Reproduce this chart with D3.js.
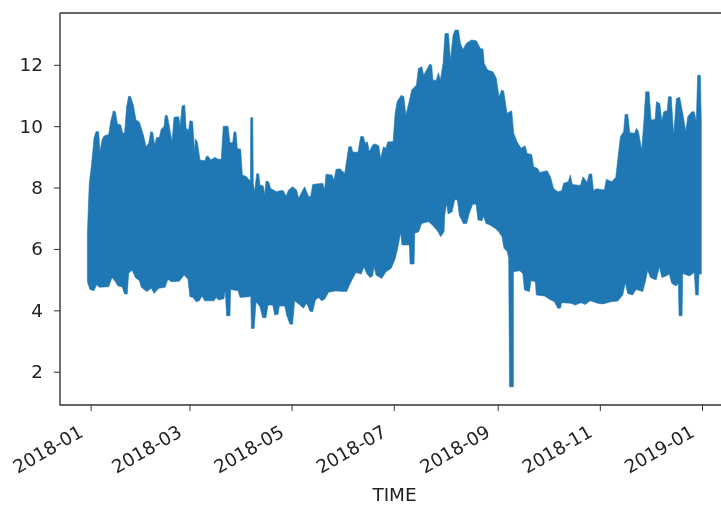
<!DOCTYPE html>
<html><head><meta charset="utf-8">
<script src="https://cdn.jsdelivr.net/npm/d3@7"></script>
<style>html,body{margin:0;padding:0;background:#fff}svg{display:block;filter:blur(0.55px)}text{font-family:"DejaVu Sans";fill:#222}</style>
</head><body><svg id="c" width="721" height="505"></svg>
<script>
// days since 2018-01-01 and value of the upper envelope of the series
const upperDay=[-1.9,-0.8,0.4,1.2,2,3.2,4.8,5.6,6.8,8,10.8,12,13.6,14.8,16,18,19.2,20.3,21.5,22.7,23.9,25.5,27.1,29.1,31.5,33.1,34.7,35.9,37.1,38.2,39.4,41,42.2,43.8,44.6,45.8,47,48.6,49.8,52.6,53.4,54.6,56.2,57,58.5,59.3,60.9,62.1,62.5,63.7,65.3,68.1,69.3,70.5,71.7,74.1,76.4,78,79.2,82,83.2,84.8,85.6,86.8,87.6,89.6,90.6,93.2,94.8,95.4,95.6,96.8,97.1,97.9,99.2,100.4,101.1,103.1,103.9,104.7,106.3,107.5,111.1,113.1,115.1,116.6,118.2,120.6,123,124.2,126.2,127.8,129,130.2,131.4,132.6,138.6,139.7,140.5,144.1,145.3,146.5,148.9,151.7,152.9,154.1,155.7,156.5,159.6,161.2,162.8,164,165.2,166.4,168.4,170,172,173.2,174.8,176.3,177.4,180.6,181.8,183,185.4,187,188.2,189.7,191.7,194.5,195.7,197.7,198.9,202.4,203.6,204.4,206.4,207.6,208.8,210.4,211.6,213.6,214.8,216.4,217.6,219.6,220.8,222.3,224.3,227.5,230.3,232.7,234.3,235,237,240.2,242.2,243.8,245.4,246.6,248.6,251.4,252.6,254.6,257,259.4,260.6,263.3,264.5,266.9,268.1,272.5,274.5,276.4,278.9,281.2,282.4,285.2,286.4,287.6,292.4,294,296.4,297.6,299.2,300.2,301.8,306.7,307.9,311.1,313.5,314.7,316.3,318.2,319.1,320.7,321.9,324.7,325.9,327.1,329,330.2,331.4,333.4,334.6,337,337.8,339.8,341,342.2,344.2,345,346.6,348.1,349.7,351.7,353.7,355.3,356.5,358.9,360.4,361.6,362.4,364,364.6];
const upperValue=[6.51,8.13,8.68,9.11,9.6,9.82,9.82,9.17,9.55,9.68,9.73,10.15,10.5,10.47,10.07,10.04,9.77,9.79,10.63,10.98,10.96,10.69,10.2,10.14,9.71,9.33,9.44,9.82,9.8,9.39,9.63,9.63,9.91,9.98,10.36,10.34,10,9.49,10.29,10.31,10,10.66,10.69,9.93,9.87,10.18,10.15,9.11,9.59,9.49,8.9,8.87,9.03,9,8.9,8.98,8.92,8.92,10,10,9.46,9.46,9.82,9.8,9.27,9.25,8.41,8.35,8.24,8.24,10.28,10.28,8.14,7.86,8.46,8.44,8.08,8.05,7.76,8.21,8.19,7.97,7.86,7.9,7.9,7.72,7.92,8.03,7.92,7.65,7.86,8.03,7.86,7.7,7.72,8.1,8.14,7.92,8.43,8.41,8.24,8.59,8.61,8.46,8.9,9.33,9.33,9.16,9.15,9.66,9.66,9.44,9.49,9.17,9.39,9.42,9.36,8.95,9.33,9.28,9.49,9.49,10.42,10.8,11.01,10.96,10.36,10.69,11.18,11.34,11.88,11.94,11.66,12.02,11.99,11.5,11.5,11.74,11.5,12.04,13.02,13.02,12.15,12.97,13.13,13.13,12.7,12.5,12.7,12.81,12.78,12.53,12.51,12.04,11.83,11.77,11.56,10.96,11.18,11.15,10.42,10.5,9.77,9.49,9.28,9.36,9.11,9.08,8.68,8.62,8.49,8.55,8.35,7.97,7.86,7.9,8.14,8.19,8.41,8.1,8.07,8.35,8.17,8.44,8.44,7.9,7.96,7.92,8.27,8.19,8.33,8.9,9.66,9.82,10.38,10.38,9.79,9.77,9.93,9.82,9.22,10.09,11.12,11.12,10.2,10.22,10.8,10.74,10.18,10.47,10.5,10.96,10.96,9.71,10.9,10.94,10.36,9.82,10.31,10.47,10.47,10.15,11.66,11.66,10.09];
// days since 2018-01-01 and value of the lower envelope of the series
const lowerDay=[-1.9,-0.4,2,3.6,5.2,10.8,12.8,14.8,16.4,18.8,20.3,21.9,22.7,24.7,26.7,29.1,30.3,33.5,36.3,37.9,40.7,44.5,46.2,48.2,53,55.8,58.1,59.3,61.3,62.9,64.9,66.5,68.1,73.7,74.9,76.4,79.6,80.4,81.2,83.2,83.6,88,89.2,94.4,95.6,96,97.6,98.8,101.1,102.7,104.7,105.9,108.7,109.9,111.9,112.7,115.9,117,119,120.6,121.8,125,127,129,131,132.6,134.2,136.2,137.8,139.7,142.1,146.1,152.9,154.5,156.5,158.4,161.6,163.2,164.8,166.8,168.4,169.2,170.4,173.8,176.4,179.5,181.9,183.5,185.1,185.9,190.3,190.7,193.1,193.5,195.9,197.6,201.8,204.6,207.4,209,211,211.4,212.6,213.4,215.8,217.4,219,220.1,222.5,224.5,226.1,228.1,230.1,231.3,233.7,234.5,236.1,238.4,241.6,243.6,245.6,246.8,248.8,249.6,250.1,252.4,252.4,256.2,258,259,262,262.9,265.5,266.1,270.9,273.9,276.9,278.9,280.5,281.2,286.8,289.2,292.8,295.2,298.3,302.7,306,310.7,314.7,317.7,319.2,320.6,323.6,325.6,329.6,331.2,332.6,334.2,337.6,339.6,341,343.5,345.5,346.9,349.5,350.9,351.3,353.1,353.5,357.4,360.4,361.2,362.8,363.2,364.6];
const lowerValue=[4.93,4.68,4.64,4.83,4.75,4.77,5.07,4.93,4.79,4.77,4.53,4.53,5.2,5.31,5.07,4.97,4.75,4.61,4.72,4.55,4.72,4.75,5.01,4.93,4.95,5.15,5.02,4.44,4.42,4.28,4.31,4.47,4.31,4.31,4.42,4.34,4.38,4.66,3.82,3.82,4.68,4.64,4.42,4.44,4.47,3.41,3.41,4.28,4.12,3.76,3.76,4.17,4.17,3.85,3.87,4.14,4.14,3.85,3.55,3.55,4.31,4.17,4.07,4.23,3.96,3.96,4.34,4.42,4.31,4.36,4.59,4.63,4.61,4.82,5.04,5.23,5.18,5.42,5.2,5.07,5.12,5.42,5.15,5.04,5.26,5.37,5.69,6.07,6.53,6.13,6.13,5.51,5.51,6.51,6.56,6.83,6.89,6.75,6.56,6.4,6.56,7.1,7.48,7.14,7.21,7.61,7.59,7.1,6.83,6.83,7.16,7.46,7.46,6.94,6.92,7.07,6.83,6.78,6.67,6.56,6.4,6.02,5.91,5.69,1.51,1.51,5.26,5.29,5.2,4.66,4.61,4.97,4.93,4.5,4.47,4.36,4.28,4.07,4.07,4.25,4.23,4.17,4.25,4.19,4.31,4.23,4.21,4.28,4.3,4.5,4.9,4.55,4.5,4.68,4.61,4.93,5.31,5.07,4.99,5.42,5.07,5.12,5.18,4.88,4.79,4.88,3.82,3.82,5.2,5.12,5.23,4.5,4.5,5.18,5.18];
const xTickMonths=["2018-01","2018-03","2018-05","2018-07","2018-09","2018-11","2019-01"];
const yTickValues=[2,4,6,8,10,12];
const xTitle="TIME";

const parseMonth=d3.utcParse("%Y-%m");
const start=parseMonth(xTickMonths[0]),end=parseMonth(xTickMonths[xTickMonths.length-1]);
const toDate=d=>new Date(+start+d*864e5);
const x=d3.scaleUtc().domain([start,end]).range([90.6,702]);
const y=d3.scaleLinear().domain([2,12]).range([371.7,64.8]);
const svg=d3.select("#c");
const ink="#333";

const outline=upperDay.map((d,i)=>[d,upperValue[i]]).concat(lowerDay.map((d,i)=>[d,lowerValue[i]]).reverse());
const line=d3.line().x(p=>x(toDate(p[0]))).y(p=>y(p[1]));
svg.append("path").datum(outline).attr("d",d=>line(d)+"Z")
  .attr("fill","#1f77b4").attr("stroke","#1f77b4").attr("stroke-width",0.6).attr("stroke-linejoin","round");

const gx=svg.append("g").attr("transform","translate(0,405)")
  .call(d3.axisBottom(x).tickValues(xTickMonths.map(parseMonth)).tickFormat(d3.utcFormat("%Y-%m")).tickSize(6));
gx.select(".domain").remove();
gx.selectAll("line").attr("stroke",ink).attr("stroke-width",1);
gx.selectAll("text").attr("font-size",18.4).attr("text-anchor","end")
  .attr("x",0).attr("y",0).attr("dy","0.35em").attr("transform","translate(-10,25) rotate(-30)");

const gy=svg.append("g").attr("transform","translate(60,0)")
  .call(d3.axisLeft(y).tickValues(yTickValues).tickFormat(d3.format("d")).tickSize(6).tickPadding(11));
gy.select(".domain").remove();
gy.selectAll("line").attr("stroke",ink).attr("stroke-width",1);
gy.selectAll("text").attr("font-size",18.4);

[[60,13,60,405.5],[60,13,721,13],[60,405,721,405]].forEach(s=>svg.append("line")
  .attr("x1",s[0]).attr("y1",s[1]).attr("x2",s[2]).attr("y2",s[3]).attr("stroke",ink).attr("stroke-width",1.4));

svg.append("text").attr("x",394.5).attr("y",500.5).attr("text-anchor","middle").attr("font-size",18.4).text(xTitle);
</script></body></html>
